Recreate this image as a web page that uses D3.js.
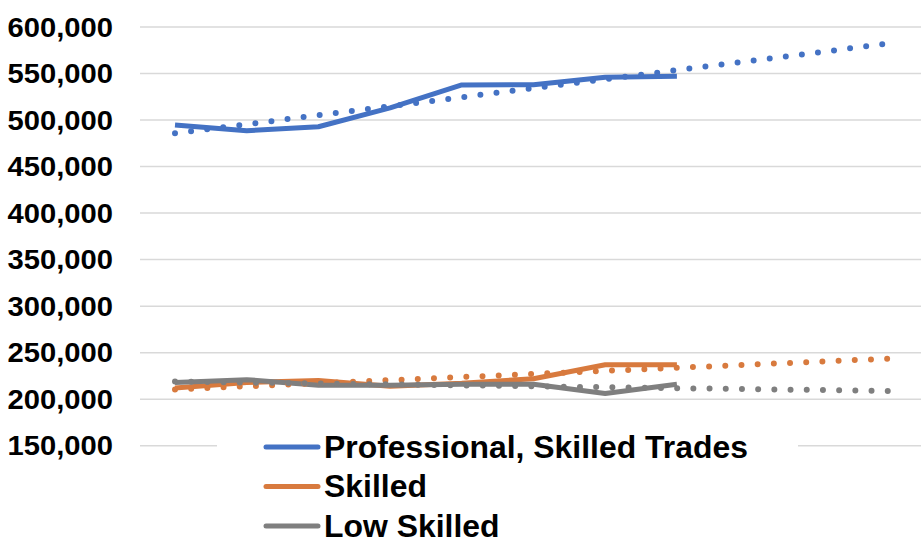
<!DOCTYPE html>
<html>
<head>
<meta charset="utf-8">
<script src="https://cdn.jsdelivr.net/npm/d3@7"></script>
<style>
  body { margin: 0; background: #fff; }
  svg { display: block; font-family: "Liberation Sans", Arial, sans-serif; }
</style>
</head>
<body>
<div id="chart"></div>
<script>
// series values (8 observed periods, trend projected 3 periods forward)
const periods = [0, 1, 2, 3, 4, 5, 6, 7];
const professional = [494700, 488500, 492800, 513000, 537700, 538000, 546000, 547000];
const skilled = [212000, 218000, 220000, 214000, 217000, 222000, 237000, 237000];
const lowSkilled = [218000, 221000, 215000, 215000, 216000, 216000, 206000, 216000];
const forecastPeriods = 3;

const seriesNames = ["Professional, Skilled Trades", "Skilled", "Low Skilled"];
const seriesColors = ["#4472C4", "#D87A3E", "#7F7F7F"];
const yTicks = [150000, 200000, 250000, 300000, 350000, 400000, 450000, 500000, 550000, 600000];

const width = 921, height = 538;

const svg = d3.select("#chart").append("svg")
    .attr("width", width)
    .attr("height", height);

const x = d3.scaleLinear()
    .domain([0, periods.length - 1 + forecastPeriods])
    .range([175, 892]);

const y = d3.scaleLinear()
    .domain([150000, 600000])
    .range([445.7, 27]);

// gridlines
svg.append("g").selectAll("line")
    .data(yTicks)
    .join("line")
    .attr("x1", 140)
    .attr("x2", width)
    .attr("y1", d => y(d))
    .attr("y2", d => y(d))
    .attr("stroke", "#d9d9d9")
    .attr("stroke-width", 1.5);

// y axis labels (the original's glyphs are a bit wider, so stretch them)
svg.append("g")
    .attr("transform", "translate(113,0) scale(1.08,1) translate(-113,0)")
    .selectAll("text")
    .data(yTicks)
    .join("text")
    .attr("x", 113)
    .attr("y", d => y(d))
    .attr("dy", "0.36em")
    .attr("text-anchor", "end")
    .attr("font-size", 27)
    .attr("font-weight", "bold")
    .attr("fill", "#000")
    .text(d3.format(","));

const allSeries = [professional, skilled, lowSkilled];

// simple least squares trendline, like the spreadsheet's linear trend
function linearTrend(values) {
    const n = values.length;
    const mx = d3.mean(periods);
    const my = d3.mean(values);
    let sxy = 0, sxx = 0;
    values.forEach((v, i) => {
        sxy += (periods[i] - mx) * (v - my);
        sxx += (periods[i] - mx) * (periods[i] - mx);
    });
    const slope = sxy / sxx;
    const intercept = my - slope * mx;
    const end = n - 1 + forecastPeriods;
    return [[0, intercept], [end, intercept + slope * end]];
}

const line = d3.line()
    .x((d, i) => x(periods[i]))
    .y(d => y(d));

allSeries.forEach((values, k) => {
    svg.append("path")
        .datum(values)
        .attr("d", line)
        .attr("fill", "none")
        .attr("stroke", seriesColors[k])
        .attr("stroke-width", 5)
        .attr("stroke-linejoin", "round");
});

const trendLine = d3.line()
    .x(d => x(d[0]))
    .y(d => y(d[1]));

allSeries.forEach((values, k) => {
    svg.append("path")
        .datum(linearTrend(values))
        .attr("d", trendLine)
        .attr("fill", "none")
        .attr("stroke", seriesColors[k])
        .attr("stroke-width", 6)
        .attr("stroke-linecap", "round")
        .attr("stroke-dasharray", "0 16.2");
});

// legend
const legend = svg.append("g");
legend.append("rect")
    .attr("x", 217)
    .attr("y", 431)
    .attr("width", 581)
    .attr("height", 110)
    .attr("fill", "#fff");

seriesNames.forEach((name, k) => {
    const ly = 447 + k * 39.5;
    legend.append("line")
        .attr("x1", 266)
        .attr("x2", 318)
        .attr("y1", ly)
        .attr("y2", ly)
        .attr("stroke", seriesColors[k])
        .attr("stroke-width", 5)
        .attr("stroke-linecap", "round");
    legend.append("text")
        .attr("x", 324)
        .attr("y", ly + 11)
        .attr("transform", "translate(324,0) scale(1.03,1) translate(-324,0)")
        .attr("font-size", 31)
        .attr("font-weight", "bold")
        .attr("fill", "#000")
        .text(name);
});
</script>
</body>
</html>
